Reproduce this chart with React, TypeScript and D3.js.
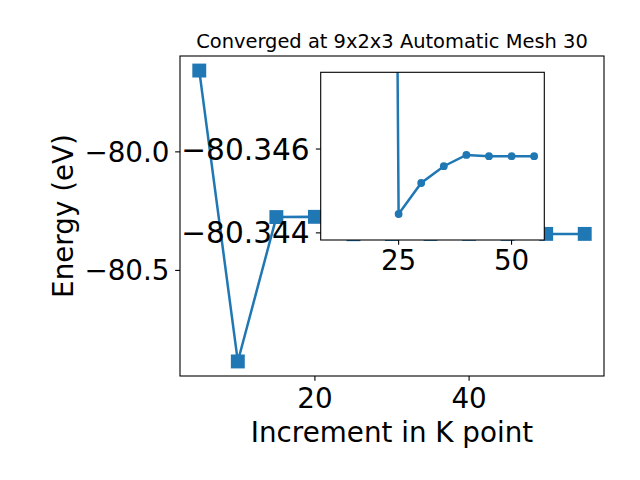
import React from 'react';
import * as d3 from 'd3';

const kPoints = [5, 10, 15, 20, 25, 30, 35, 40, 45, 50, 55];
const energies = [-79.657, -80.884, -80.275, -80.274, -80.34735, -80.34661, -80.34621, -80.34594, -80.34597, -80.34597, -80.34597];
const insetFirstK = 15;
const mainXTicks = [20, 40];
const mainYTicks = [-80.0, -80.5];
const insetXTicks = [25, 50];
const insetYTicks = [-80.3458, -80.3478];
const insetYTickLabels = ['\u221280.346', '\u221280.344'];
const insetYLimits = [-80.34797, -80.34397];
const insetXLimits = [7.75, 57.25];
const titleText = 'Converged at 9x2x3 Automatic Mesh 30';
const xLabelText = 'Increment in K point';
const yLabelText = 'Energy (eV)';

const W = 640, H = 480;
const FONT = 'DejaVu Sans';
const BLUE = '#1f77b4';
const TICK_FS = 27.78;
const INSET_Y_FS = 29.6;
const LABEL_FS = 27.78;
const TITLE_FS = 19.44;
const TICK_LEN = 4.86;
const LW = 2.5;

const main = { left: 180, right: 604, top: 56, bottom: 376 };
const inset = { left: 320.7, right: 544.3, top: 72.3, bottom: 240 };

export default function App() {
  const data = kPoints.map((k, i) => ({ k, e: energies[i] }));
  const insetData = data.filter(d => d.k >= insetFirstK);
  const xExt = d3.extent(kPoints) as [number, number];
  const yExt = d3.extent(energies) as [number, number];
  const xPad = (xExt[1] - xExt[0]) * 0.05;
  const yPad = (yExt[1] - yExt[0]) * 0.05;
  const x = d3.scaleLinear().domain([xExt[0] - xPad, xExt[1] + xPad]).range([main.left, main.right]);
  const y = d3.scaleLinear().domain([yExt[0] - yPad, yExt[1] + yPad]).range([main.bottom, main.top]);
  const xi = d3.scaleLinear().domain(insetXLimits).range([inset.left, inset.right]);
  const yi = d3.scaleLinear().domain(insetYLimits).range([inset.bottom, inset.top]);

  const lineMain = d3.line<{ k: number; e: number }>().x(d => x(d.k)).y(d => y(d.e));
  const lineInset = d3.line<{ k: number; e: number }>().x(d => xi(d.k)).y(d => yi(d.e));
  const fmt = d3.format('.1f');
  const ms = 13.9;

  return (
    <svg width={W} height={H} style={{ position: 'absolute', left: 0, top: 0, background: '#fff' }} fontFamily={FONT}>
      <defs>
        <clipPath id="clipMain">
          <rect x={main.left} y={main.top} width={main.right - main.left} height={main.bottom - main.top} />
        </clipPath>
        <clipPath id="clipInset">
          <rect x={inset.left} y={inset.top} width={inset.right - inset.left} height={inset.bottom - inset.top} />
        </clipPath>
      </defs>
      <rect x={0} y={0} width={W} height={H} fill="#fff" />
      {/* main axes */}
      <g clipPath="url(#clipMain)">
        <path d={lineMain(data) || ''} fill="none" stroke={BLUE} strokeWidth={LW} />
        {data.map((d, i) => (
          <rect key={i} x={x(d.k) - ms / 2} y={y(d.e) - ms / 2} width={ms} height={ms} fill={BLUE} />
        ))}
      </g>
      <rect x={main.left} y={main.top} width={main.right - main.left} height={main.bottom - main.top} fill="none" stroke="#000" strokeWidth={1.1} />
      {mainXTicks.map(t => (
        <g key={t}>
          <line x1={x(t)} x2={x(t)} y1={main.bottom} y2={main.bottom + TICK_LEN} stroke="#000" strokeWidth={1.1} />
          <text x={x(t)} y={407.5} fontSize={TICK_FS} textAnchor="middle" fill="#000">{t}</text>
        </g>
      ))}
      {mainYTicks.map(t => (
        <g key={t}>
          <line x1={main.left - TICK_LEN} x2={main.left} y1={y(t)} y2={y(t)} stroke="#000" strokeWidth={1.1} />
          <text x={main.left - 10.5} y={y(t) + 10} fontSize={TICK_FS} textAnchor="end" fill="#000">{fmt(t)}</text>
        </g>
      ))}
      <text x={(main.left + main.right) / 2} y={441.5} fontSize={LABEL_FS} textAnchor="middle" fill="#000">{xLabelText}</text>
      <text transform={`translate(72.5,${(main.top + main.bottom) / 2}) rotate(-90)`} fontSize={LABEL_FS} textAnchor="middle" fill="#000">{yLabelText}</text>
      <text x={(main.left + main.right) / 2} y={47.5} fontSize={TITLE_FS} textAnchor="middle" fill="#000">{titleText}</text>
      {/* inset axes */}
      <rect x={inset.left} y={inset.top} width={inset.right - inset.left} height={inset.bottom - inset.top} fill="#fff" />
      <g clipPath="url(#clipInset)">
        <path d={lineInset(insetData) || ''} fill="none" stroke={BLUE} strokeWidth={LW} />
        {insetData.map((d, i) => (
          <circle key={i} cx={xi(d.k)} cy={yi(d.e)} r={3.9} fill={BLUE} />
        ))}
      </g>
      <rect x={inset.left} y={inset.top} width={inset.right - inset.left} height={inset.bottom - inset.top} fill="none" stroke="#000" strokeWidth={1.1} />
      {insetXTicks.map(t => (
        <g key={t}>
          <line x1={xi(t)} x2={xi(t)} y1={inset.bottom} y2={inset.bottom + TICK_LEN} stroke="#000" strokeWidth={1.1} />
          <text x={xi(t)} y={270} fontSize={TICK_FS} textAnchor="middle" fill="#000">{t}</text>
        </g>
      ))}
      {insetYTicks.map((t, i) => (
        <g key={t}>
          <line x1={inset.left - TICK_LEN} x2={inset.left} y1={yi(t)} y2={yi(t)} stroke="#000" strokeWidth={1.1} />
          <text x={inset.left - 11} y={yi(t) + 10.5} fontSize={INSET_Y_FS} textAnchor="end" fill="#000">{insetYTickLabels[i]}</text>
        </g>
      ))}
    </svg>
  );
}
